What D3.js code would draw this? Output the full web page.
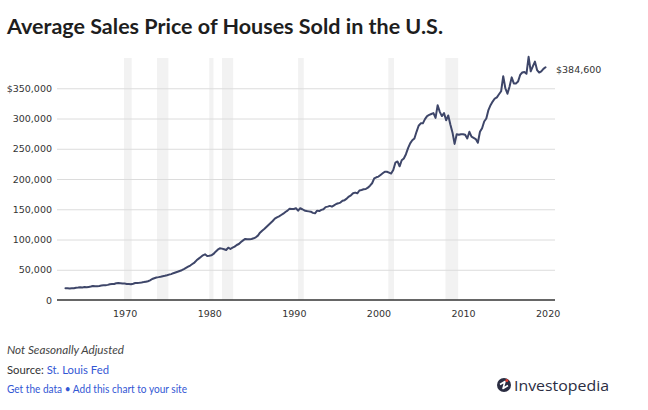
<!DOCTYPE html>
<html><head><meta charset="utf-8">
<script src="https://cdn.jsdelivr.net/npm/d3@7"></script>
<style>body{margin:0;background:#fff} svg{display:block}</style>
</head><body><svg id="c" width="648" height="410"></svg>
<script>
// ---- DATA (quarterly average sales price, USD) ----
const startYear = 1963; // first quarter: 1963 Q1
const price1960s = [19300,19400,19200,19600, 19600,20200,20500,20900, 20800,21500,21000,21600, 22200,23200,22600,22900, 23300,23900,24300,24500, 25000,26100,26300,26400, 27600,28100,27700,27200];
const price1970s = [27200,26600,26300,25900, 26800,28000,28300,28600, 29000,29600,30300,31000, 32400,34700,36000,37200, 37800,38500,39400,40000, 40800,42000,42800,44300, 45500,46700,48000,49200, 51000,53000,55000,57000, 59500,61900,65600,68400, 71100,73900,75500,72800];
const price1980s = [73300,73900,76100,79900, 83200,85400,84900,83800, 82700,86500,84300,86500, 88200,90900,92600,95900, 98600,100900,100300,100300, 100900,102000,103600,106400, 111300,114600,117400,120700, 124000,127300,130600,134500, 136700,138300,140500,142700, 145500,147700,151000,150500];
const price1990s = [150500,151600,147700,151600, 150000,148000,147000,146500, 146000,144000,143300,147700, 147000,149000,150000,153500, 154300,155500,154300,156500, 158700,159800,161000,164000, 165000,167500,171000,173000, 176400,177500,176400,181000, 181900,183000,183500,185700, 189000,193000,201000,202800];
const price2000s = [204000,206700,209400,212000, 212000,210500,209000,215000, 227000,229000,221000,231000, 234000,241000,251000,259000, 264000,267000,278000,288000, 292000,292000,299000,304000, 306000,307500,309000,301000, 322000,311000,304000,309000, 297000,305000,290000,277000, 258000,274000,273000,274000];
const price2010s = [274000,273000,267000,278000, 270000,268000,266000,260000, 278000,284000,295000,300000, 314000,322000,328000,333000, 335000,340000,345000,370000, 350000,341000,353000,368000, 358000,358000,361000,372000, 376000,377000,374000,402000, 378000,386000,394000,380000, 376000,378000,382000,384600];
const yTicks = [0,50000,100000,150000,200000,250000,300000,350000];
const xTicks = [1970,1980,1990,2000,2010,2020];
const recessions = [[1969.92,1970.83],[1973.83,1975.17],[1980.0,1980.5],[1981.5,1982.83],[1990.5,1991.17],[2001.17,2001.83],[2007.92,2009.42]];
const titleText = "Average Sales Price of Houses Sold in the U.S.";
const noteText = "Not Seasonally Adjusted";
const sourceLabel = "Source: ";
const sourceName = "St. Louis Fed";
const linksText = "Get the data \u2022 Add this chart to your site";
const brandText = "Investopedia";

const values = [].concat(price1960s, price1970s, price1980s, price1990s, price2000s, price2010s);
const data = values.map((v, i) => ({year: startYear + i / 4, value: v}));

const svg = d3.select("#c");
const L = 57, R = 555, B = 300, T = 58;
const x = d3.scaleLinear().domain([1962.0, 2020.87]).range([L, R]);
const y = d3.scaleLinear().domain([0, 400000]).range([B, T]);
const tickFont = "'DejaVu Sans', Verdana, sans-serif";

// recession bands
svg.append("g").selectAll("rect").data(recessions).join("rect")
  .attr("x", d => x(d[0])).attr("width", d => x(d[1]) - x(d[0]))
  .attr("y", T).attr("height", B - T).attr("fill", "#f2f2f2");

// y axis + gridlines
const fmt = d3.format(",");
const yAxis = d3.axisLeft(y).tickValues(yTicks).tickSize(-(R - L)).tickPadding(5)
  .tickFormat(d => d === 350000 ? "$" + fmt(d) : fmt(d));
const gy = svg.append("g").attr("transform", `translate(${L},0)`).call(yAxis);
gy.select(".domain").remove();
gy.selectAll(".tick line").attr("stroke", "#dcdcdc").attr("stroke-width", 1)
  .filter(d => d === 0).remove();
gy.selectAll(".tick text").attr("font-family", tickFont).attr("font-size", 9.5).attr("fill", "#333");

// x axis
const xAxis = d3.axisBottom(x).tickValues(xTicks).tickSize(0).tickPadding(10).tickFormat(d3.format("d"));
const gx = svg.append("g").attr("transform", `translate(0,${B})`).call(xAxis);
gx.select(".domain").remove();
gx.selectAll(".tick text").attr("font-family", tickFont).attr("font-size", 9.5).attr("fill", "#333");

// baseline
svg.append("line").attr("x1", L).attr("x2", R).attr("y1", y(0)).attr("y2", y(0))
  .attr("stroke", "#333").attr("stroke-width", 1.6);

// line
svg.append("path").datum(data)
  .attr("d", d3.line().x(d => x(d.year)).y(d => y(d.value)))
  .attr("fill", "none").attr("stroke", "#3e4669").attr("stroke-width", 2)
  .attr("stroke-linejoin", "round").attr("stroke-linecap", "round");

// last value label
const last = data[data.length - 1];
svg.append("text").attr("x", R + 1).attr("y", y(last.value) + 2.5).attr("dy", "0.35em")
  .attr("font-family", tickFont).attr("font-size", 9.5).attr("fill", "#333")
  .text("$" + fmt(last.value));

// title
svg.append("text").attr("x", 7).attr("y", 34)
  .attr("font-family", "Lato, 'Open Sans', sans-serif").attr("font-weight", 700).attr("font-size", 21)
  .attr("fill", "#1e1e1e").attr("textLength", 436).attr("lengthAdjust", "spacingAndGlyphs")
  .text(titleText);

// footer
const footFont = "Lato, 'Open Sans', sans-serif";
svg.append("text").attr("x", 7).attr("y", 354).attr("font-family", footFont)
  .attr("font-style", "italic").attr("font-size", 11).attr("fill", "#444")
  .attr("textLength", 117).attr("lengthAdjust", "spacingAndGlyphs").text(noteText);
const src = svg.append("text").attr("x", 7).attr("y", 374).attr("font-family", footFont)
  .attr("font-size", 11.5).attr("fill", "#333")
  .attr("textLength", 102).attr("lengthAdjust", "spacingAndGlyphs");
src.append("tspan").text(sourceLabel);
src.append("tspan").attr("fill", "#3357d4").text(sourceName);
svg.append("text").attr("x", 7).attr("y", 393).attr("font-family", footFont)
  .attr("font-size", 10.5).attr("fill", "#3357d4")
  .attr("textLength", 180).attr("lengthAdjust", "spacingAndGlyphs").text(linksText);

// brand logo
const lg = svg.append("g");
lg.append("circle").attr("cx", 504).attr("cy", 385).attr("r", 7).attr("fill", "#2b2d42");
lg.append("path").attr("d", "M500,384.5 L505,381.5 L503,388.5 L508,385.5")
  .attr("fill", "none").attr("stroke", "#fff").attr("stroke-width", 1.6).attr("stroke-linejoin", "round");
lg.append("circle").attr("cx", 506.8).attr("cy", 380.6).attr("r", 1.5).attr("fill", "#e03c31");
lg.append("text").attr("x", 514).attr("y", 390.5).attr("font-family", "'Open Sans', Lato, sans-serif")
  .attr("font-size", 15).attr("fill", "#2b2d42")
  .attr("textLength", 95).attr("lengthAdjust", "spacingAndGlyphs").text(brandText);
</script></body></html>
